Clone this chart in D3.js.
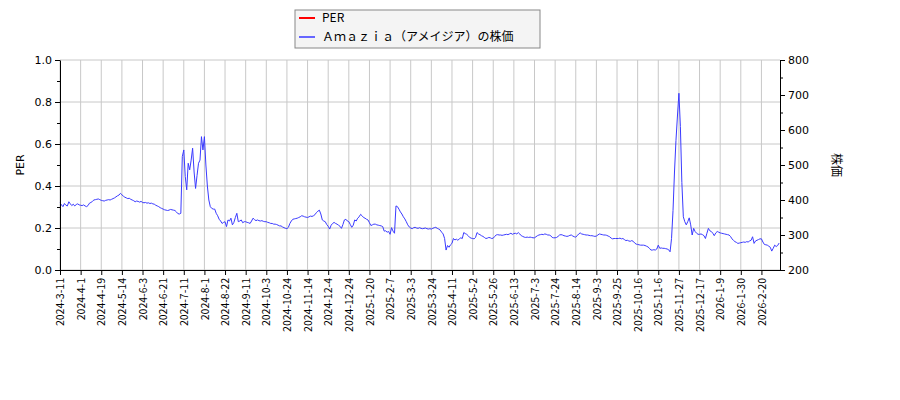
<!DOCTYPE html>
<html>
<head>
    <meta charset="utf-8">
    <script src="https://d3js.org/d3.v7.min.js"></script>
    <style>
        body { margin: 0; background: #fff; }
        svg { display: block; }
    </style>
</head>
<body>
<div id="chart"></div>
<script>
    // x tick labels, one every 14 trading days
    const tickLabels = [
        "2024-3-11", "2024-4-1", "2024-4-19", "2024-5-14", "2024-6-3", "2024-6-21",
        "2024-7-11", "2024-8-1", "2024-8-22", "2024-9-11", "2024-10-3", "2024-10-24",
        "2024-11-14", "2024-12-4", "2024-12-24", "2025-1-20", "2025-2-7", "2025-3-3",
        "2025-3-24", "2025-4-11", "2025-5-2", "2025-5-26", "2025-6-13", "2025-7-3",
        "2025-7-24", "2025-8-14", "2025-9-3", "2025-9-25", "2025-10-16", "2025-11-6",
        "2025-11-27", "2025-12-17", "2026-1-9", "2026-1-30", "2026-2-20"
    ];
    const tickStep = 14;

    // PER: no values shown in the chart
    const perValues = [];

    // stock price per trading day (right axis)
    const priceValues = [
        392, 386, 381, 390, 385, 383, 395, 389, 384, 388, 383, 387, 389, 386,
        385, 384, 386, 383, 381, 384, 391, 393, 396, 400, 401, 402, 403, 401,
        399, 398, 397, 399, 400, 401, 400, 402, 404, 406, 409, 412, 414, 419,
        415, 411, 408, 406, 404, 405, 402, 400, 398, 395, 397, 396, 394, 396,
        393, 392, 393, 391, 392, 390, 391, 389, 388, 385, 383, 381, 378, 376,
        374, 372, 371, 370, 371, 373, 372, 371, 370, 366, 361, 360, 362, 524,
        543, 467, 429, 505, 486, 514, 548, 480, 433, 470, 505, 514, 581, 543,
        581, 500, 440, 400, 381, 376, 374, 374, 362, 355, 345, 340, 333, 336,
        338, 324, 343, 340, 348, 329, 336, 350, 362, 338, 340, 343, 335, 338,
        338, 336, 335, 333, 340, 348, 344, 341, 343, 341, 340, 341, 339, 338,
        338, 336, 335, 333, 333, 331, 331, 330, 328, 326, 326, 323, 321, 319,
        318, 322, 333, 340, 345, 346, 347, 348, 350, 352, 355, 354, 352, 351,
        350, 352, 354, 353, 355, 358, 364, 368, 371, 360, 343, 340, 338, 330,
        325, 317, 328, 333, 336, 333, 331, 328, 325, 319, 330, 343, 345, 340,
        338, 330, 322, 328, 343, 340, 348, 352, 359, 355, 350, 348, 345, 343,
        335, 327, 329, 331, 331, 329, 328, 327, 326, 324, 311, 312, 308, 310,
        302, 321, 311, 305, 383, 381, 374, 366, 360, 352, 346, 338, 329, 323,
        320, 318, 321, 322, 320, 319, 321, 319, 318, 319, 320, 318, 317, 318,
        317, 319, 321, 322, 319, 317, 314, 308, 303, 290, 257, 270, 265, 272,
        276, 290, 286, 288, 285, 289, 292, 290, 307, 304, 302, 298, 293, 291,
        290, 289, 293, 307, 303, 301, 298, 296, 293, 290, 291, 293, 292, 290,
        291, 296, 300, 301, 300, 300, 299, 300, 301, 302, 301, 303, 305, 302,
        304, 305, 303, 307, 303, 298, 296, 294, 293, 294, 293, 294, 293, 292,
        292, 295, 298, 300, 301, 302, 301, 303, 302, 300, 300, 298, 293, 292,
        292, 293, 296, 300, 301, 300, 298, 297, 296, 297, 299, 300, 297, 295,
        294, 298, 303, 306, 303, 302, 301, 300, 300, 299, 298, 298, 297, 296,
        297, 300, 303, 302, 301, 300, 300, 299, 297, 295, 291, 289, 290, 290,
        290, 290, 291, 289, 290, 287, 284, 285, 283, 282, 284, 282, 277, 274,
        273, 272, 271, 271, 271, 270, 268, 266, 262, 257, 257, 258, 257, 260,
        271, 262, 263, 262, 262, 261, 260, 258, 252, 290, 370, 480, 570, 640,
        705, 610, 450, 352, 338, 329, 338, 349, 329, 300, 319, 310, 305, 302,
        302, 303, 301, 298, 290, 305, 319, 312, 310, 305, 298, 306, 310, 308,
        306, 305, 304, 303, 302, 301, 300, 296, 289, 285, 281, 279, 276, 277,
        278, 279, 280, 279, 281, 280, 283, 285, 295, 276, 283, 285, 287, 289,
        289, 280, 273, 272, 271, 268, 265, 254, 262, 271, 267, 270, 277
    ];

    const perTicks = [0, 0.2, 0.4, 0.6, 0.8, 1.0];
    const priceTicks = [200, 300, 400, 500, 600, 700, 800];

    const width = 900, height = 400;
    const margin = { top: 60, right: 120, bottom: 130, left: 60 };
    const innerW = width - margin.left - margin.right;
    const innerH = height - margin.top - margin.bottom;

    const svg = d3.select("#chart").append("svg")
        .attr("width", width)
        .attr("height", height);

    const g = svg.append("g")
        .attr("transform", `translate(${margin.left},${margin.top})`);

    const x = d3.scaleLinear()
        .domain([0, priceValues.length - 0.4])
        .range([0, innerW]);
    const yPer = d3.scaleLinear().domain([0, 1.0]).range([innerH, 0]);
    const yPrice = d3.scaleLinear().domain([200, 800]).range([innerH, 0]);

    const tickIdx = tickLabels.map((d, i) => i * tickStep);

    // grid
    g.append("g").selectAll("line.vg")
        .data(tickIdx)
        .join("line")
        .attr("x1", d => x(d)).attr("x2", d => x(d))
        .attr("y1", 0).attr("y2", innerH)
        .attr("stroke", "#c8c8c8").attr("stroke-width", 1);
    g.append("g").selectAll("line.hg")
        .data(perTicks)
        .join("line")
        .attr("x1", 0).attr("x2", innerW)
        .attr("y1", d => yPer(d)).attr("y2", d => yPer(d))
        .attr("stroke", "#c8c8c8").attr("stroke-width", 1);

    // lines
    const priceLine = d3.line()
        .x((d, i) => x(i))
        .y(d => yPrice(d));
    g.append("path")
        .datum(priceValues)
        .attr("fill", "none")
        .attr("stroke", "#3a3aff")
        .attr("stroke-width", 1)
        .attr("d", priceLine);

    if (perValues.length) {
        g.append("path")
            .datum(perValues)
            .attr("fill", "none")
            .attr("stroke", "#ff0000")
            .attr("stroke-width", 1)
            .attr("d", d3.line().x((d, i) => x(i)).y(d => yPer(d)));
    }

    // axes
    const xAxis = g.append("g")
        .attr("transform", `translate(0,${innerH})`)
        .call(d3.axisBottom(x)
            .tickValues(tickIdx)
            .tickFormat((d, i) => tickLabels[i])
            .tickSize(5)
            .tickSizeOuter(0));
    xAxis.selectAll("text")
        .attr("transform", "rotate(-90)")
        .attr("x", -8)
        .attr("y", 0)
        .attr("dy", "0.35em")
        .style("text-anchor", "end")
        .style("font-family", "'Noto Sans CJK JP', sans-serif")
        .style("font-size", "10.5px");

    const yLeft = g.append("g")
        .call(d3.axisLeft(yPer)
            .tickValues(perTicks)
            .tickFormat(d3.format(".1f"))
            .tickSize(5)
            .tickSizeOuter(0));
    yLeft.selectAll("text")
        .style("font-family", "'DejaVu Sans', sans-serif")
        .style("font-size", "11px");
    g.append("g")
        .call(d3.axisLeft(yPer).tickValues([0.1, 0.3, 0.5, 0.7, 0.9]).tickFormat("").tickSize(3).tickSizeOuter(0))
        .select(".domain").remove();

    const yRight = g.append("g")
        .attr("transform", `translate(${innerW},0)`)
        .call(d3.axisRight(yPrice)
            .tickValues(priceTicks)
            .tickSize(5)
            .tickSizeOuter(0));
    yRight.selectAll("text")
        .style("font-family", "'DejaVu Sans', sans-serif")
        .style("font-size", "11px");
    g.append("g")
        .attr("transform", `translate(${innerW},0)`)
        .call(d3.axisRight(yPrice).tickValues([250, 350, 450, 550, 650, 750]).tickFormat("").tickSize(3).tickSizeOuter(0))
        .select(".domain").remove();

    // axis titles
    svg.append("text")
        .attr("transform", `translate(24,${margin.top + innerH / 2}) rotate(-90)`)
        .attr("text-anchor", "middle")
        .style("font-family", "'DejaVu Sans', sans-serif")
        .style("font-size", "11px")
        .text("PER");
    svg.append("text")
        .attr("transform", `translate(832,${margin.top + innerH / 2}) rotate(90)`)
        .attr("text-anchor", "middle")
        .style("font-family", "'Noto Sans CJK JP', sans-serif")
        .style("font-size", "12px")
        .text("株価");

    // legend
    const legendItems = [
        { name: "PER", color: "#ff0000" },
        { name: "Ａｍａｚｉａ（アメイジア）の株価", color: "#6666ff" }
    ];
    const legend = svg.append("g").attr("transform", "translate(295,10)");
    legend.append("rect")
        .attr("width", 245).attr("height", 38)
        .attr("fill", "#f4f4f4")
        .attr("stroke", "#888").attr("stroke-width", 1);
    const item = legend.selectAll("g.item")
        .data(legendItems)
        .join("g")
        .attr("transform", (d, i) => `translate(0,${8 + i * 19})`);
    item.append("line")
        .attr("x1", 4).attr("x2", 20)
        .attr("y1", 0).attr("y2", 0)
        .attr("stroke", d => d.color).attr("stroke-width", 2);
    item.append("text")
        .attr("x", 27).attr("y", 0).attr("dy", "0.35em")
        .style("font-family", "'Noto Sans CJK JP', sans-serif")
        .style("font-size", "12px")
        .text(d => d.name);
</script>
</body>
</html>
